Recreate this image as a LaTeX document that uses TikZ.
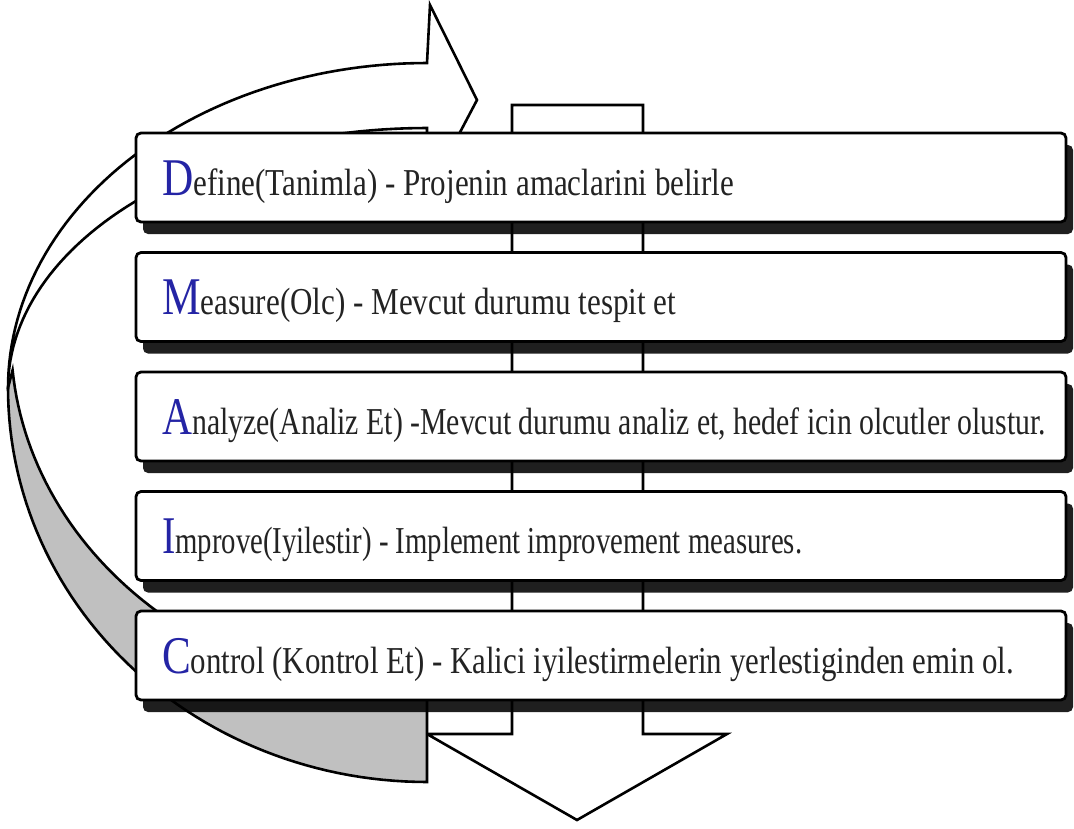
\documentclass[tikz,border=0pt]{standalone}
\usepackage{fontspec}
\setmainfont{Liberation Serif}
\usetikzlibrary{shadows}
\definecolor{initblue}{RGB}{36,36,165}
\definecolor{txtgray}{RGB}{35,35,35}
\definecolor{backgray}{RGB}{192,192,192}
\newcommand{\stepline}[3]{\resizebox{#1pt}{\height}{{\color{initblue}\fontsize{53}{53}\selectfont #2}{\color{txtgray}\fontsize{38}{40}\selectfont #3}}}
\begin{document}
\begin{tikzpicture}[x=1pt,y=-1pt,
  stepbox/.style={draw=black, line width=2.8pt, fill=white, rounded corners=5pt,
    minimum width=930pt, minimum height=89pt, inner sep=0pt,
    drop shadow={shadow xshift=7pt, shadow yshift=-12pt, fill=black, opacity=0.88}},
  steptext/.style={anchor=base west, inner sep=0pt},
  outline/.style={draw=black, line width=2.6pt, line join=miter},
]
\useasboundingbox (0,0) rectangle (1074,828);
\fill[white] (0,0) rectangle (1074,828);

% downward arrow behind the boxes
\draw[outline, fill=white] (512,105) -- (643,105) -- (643,734) -- (727,734)
  -- (577,820) -- (427,734) -- (512,734) -- cycle;

% grey back side of the curved arrow
\filldraw[outline, fill=backgray]
  plot[domain=180:270, samples=60] ({427+419*cos(\x)},{388-394*sin(\x)})
  -- (427,697)
  -- plot[domain=270:185, samples=60] ({427+416*cos(\x)},{339-358*sin(\x)})
  -- cycle;

% white front side of the curved arrow with its head
\filldraw[outline, fill=white]
  plot[domain=90:180, samples=60] ({427+419*cos(\x)},{388-325*sin(\x)})
  -- plot[domain=180:90, samples=60] ({427+419*cos(\x)},{388-260*sin(\x)})
  -- (427,195) -- (477,100) -- (430,5) -- cycle;

% step boxes
\node[stepbox] (b1) at (601,177.5) {};
\node[stepbox] (b2) at (601,297) {};
\node[stepbox] (b3) at (601,416.5) {};
\node[stepbox] (b4) at (601,536) {};
\node[stepbox] (b5) at (601,655.5) {};

\node[steptext] (t1) at (162,195) {\stepline{572}{D}{efine(Tanimla) - Projenin amaclarini belirle}};
\node[steptext] (t2) at (162,314) {\stepline{514}{M}{easure(Olc) - Mevcut durumu tespit et}};
\node[steptext] (t3) at (162,434) {\stepline{884}{A}{nalyze(Analiz Et) -Mevcut durumu analiz et, hedef icin olcutler olustur.}};
\node[steptext] (t4) at (162,553) {\stepline{640}{I}{mprove(Iyilestir) - Implement improvement measures.}};
\node[steptext] (t5) at (162,673) {\stepline{852}{C}{ontrol (Kontrol Et) - Kalici iyilestirmelerin yerlestiginden emin ol.}};
\end{tikzpicture}
\end{document}
